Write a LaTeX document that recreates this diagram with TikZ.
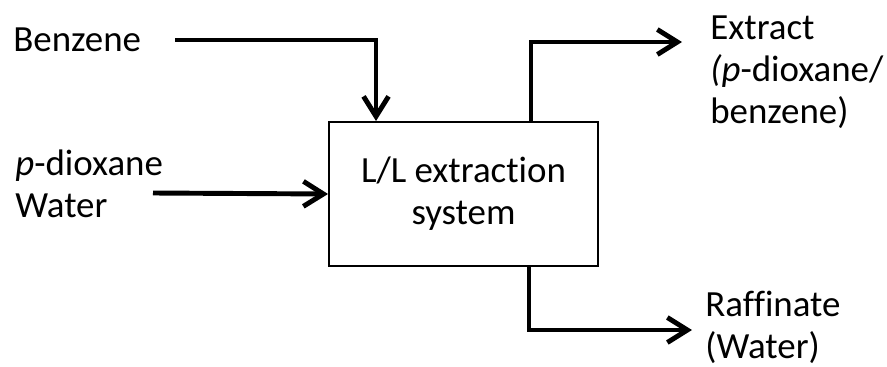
\documentclass[tikz,border=0pt]{standalone}
\usepackage{fontspec}
\setmainfont{Carlito}[RawFeature=-liga]
\usepackage{tikz}
\usetikzlibrary{arrows.meta,positioning,calc}

\begin{document}
\begin{tikzpicture}[
    font=\fontsize{21}{24}\selectfont,
    flow/.style={line width=2.8pt,-{Straight Barb[length=0.4cm,width=0.5cm]}},
    unit/.style={draw,line width=1.1pt,minimum width=5.38cm,minimum height=2.88cm,align=center},
    lbl/.style={inner sep=0pt,align=left}
]
    \useasboundingbox (0,0) rectangle (17.74,7.32);

    % Extraction unit
    \node[unit] (sys) at (9.27,3.44) {L/L extraction\\system};

    % Feed streams
    \node[lbl,anchor=west] (benzene) at (0.26,6.52) {Benzene};
    \node[lbl,anchor=west] (feed) at (0.3,3.64) {\textit{p}-dioxane\\Water};

    % Product streams
    \node[lbl,anchor=north west] (extract) at (14.2,7.02) {Extract\\\textit{(p}-dioxane/\\benzene)};
    \node[lbl,anchor=north west] (raffinate) at (14.1,1.5) {Raffinate\\(Water)};

    % Free ends of the lines
    \coordinate (feedin) at (3.06,3.46);
    \coordinate (xout) at (13.64,6.48);
    \coordinate (rout) at (13.84,0.72);

    % Benzene into the top of the unit
    \draw[flow] ([xshift=0.68cm]benzene.east) -| ([xshift=0.96cm]sys.north west);
    % Aqueous feed
    \draw[flow] (feedin) -- (sys.west);
    % Extract leaving at the top
    \draw[flow] ([xshift=4.06cm]sys.north west) |- (xout);
    % Raffinate leaving at the bottom
    \draw[flow] ([xshift=-1.4cm]sys.south east) |- (rout);
\end{tikzpicture}
\end{document}
